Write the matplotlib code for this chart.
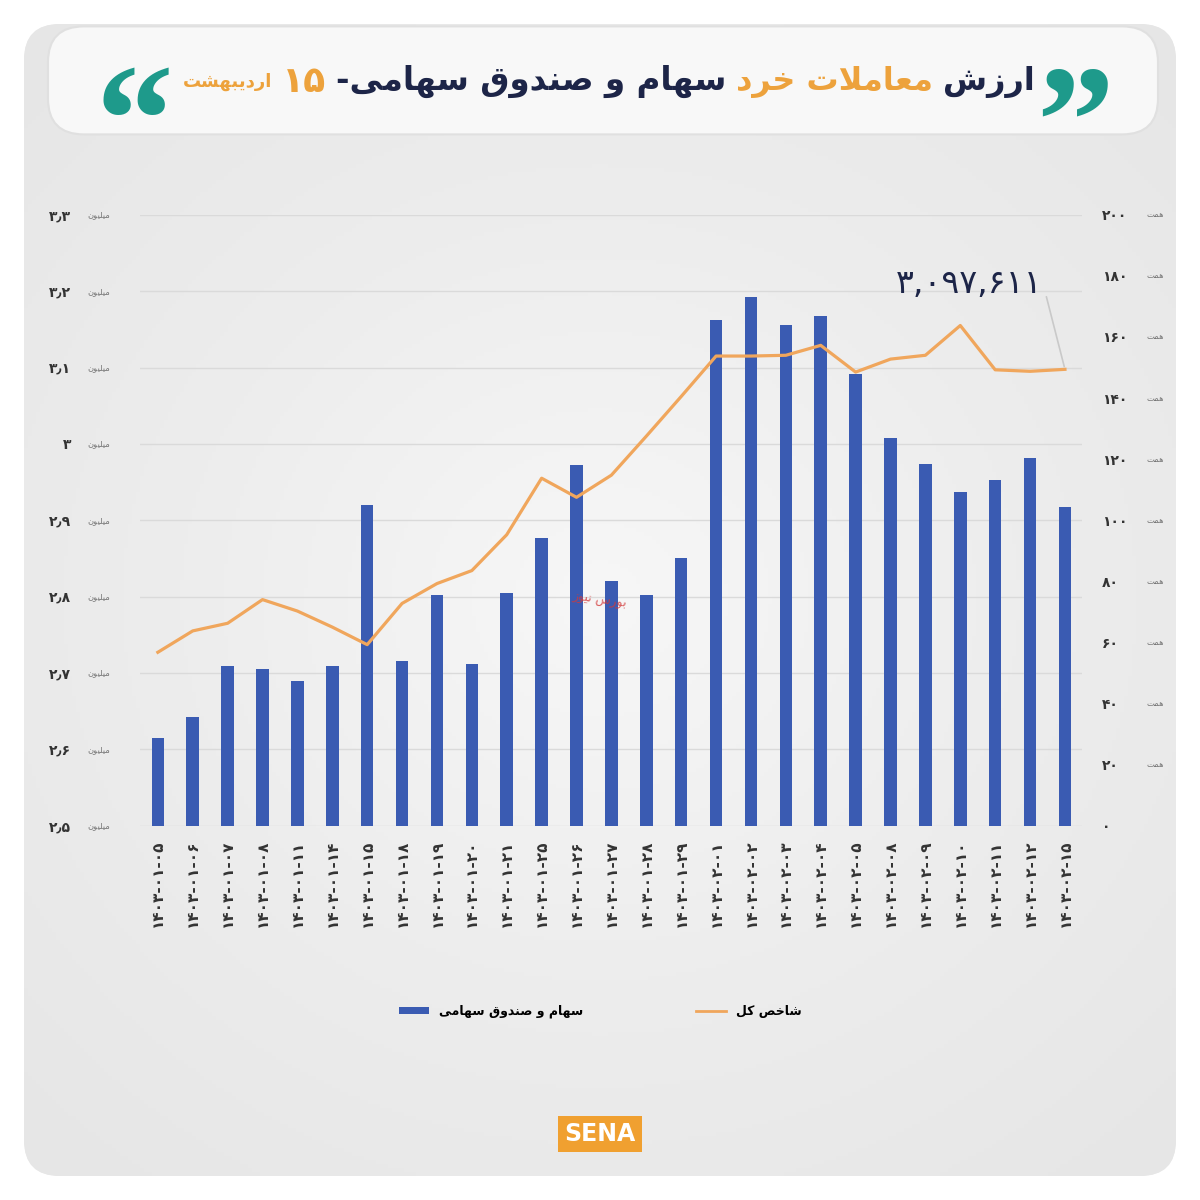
import re
import matplotlib
matplotlib.use('Agg')
import matplotlib.pyplot as plt
from matplotlib.patches import FancyBboxPatch, Rectangle
from matplotlib.lines import Line2D
from matplotlib.colors import LinearSegmentedColormap
import numpy as np

plt.rcParams['font.family'] = ['DejaVu Sans']

# ---- data ----
dates = ['1403-01-05', '1403-01-06', '1403-01-07', '1403-01-08', '1403-01-11',
         '1403-01-14', '1403-01-15', '1403-01-18', '1403-01-19', '1403-01-20',
         '1403-01-21', '1403-01-25', '1403-01-26', '1403-01-27', '1403-01-28',
         '1403-01-29', '1403-02-01', '1403-02-02', '1403-02-03', '1403-02-04',
         '1403-02-05', '1403-02-08', '1403-02-09', '1403-02-10', '1403-02-11',
         '1403-02-12', '1403-02-15']
trade_value = [28.8, 35.4, 52.4, 51.4, 47.5, 52.4, 105.0, 54.0, 75.6, 53.0,
               76.3, 94.3, 118.0, 80.2, 75.6, 87.7, 165.6, 173.2, 164.0, 167.0,
               148.0, 127.0, 118.5, 109.3, 113.0, 120.5, 104.4]
index_value = [2.727, 2.755, 2.765, 2.796, 2.781, 2.760, 2.737, 2.791, 2.817, 2.834,
               2.881, 2.955, 2.930, 2.959, 3.010, 3.062, 3.115, 3.115, 3.116, 3.129,
               3.094, 3.111, 3.116, 3.155, 3.097, 3.095, 3.0976]
left_ticks = [2.5, 2.6, 2.7, 2.8, 2.9, 3.0, 3.1, 3.2, 3.3]
left_labels = ['2٫5', '2٫6', '2٫7', '2٫8', '2٫9', '3', '3٫1', '3٫2', '3٫3']
right_ticks = [0, 20, 40, 60, 80, 100, 120, 140, 160, 180, 200]
last_label = '3,097,611'

BLUE = '#3a5bb2'
ORANGE = '#f0a65c'
NAVY = '#1d2548'
TITLE_OR = '#eda23c'
TEAL = '#1e9a8b'

# ---- persian helpers (matplotlib has no arabic shaping) ----
FA_DIGITS = str.maketrans('0123456789', '۰۱۲۳۴۵۶۷۸۹')


def fa(s):
    return str(s).translate(FA_DIGITS)


FORMS = {
    'ا': ('\ufe8d', '\ufe8e', None, None),
    'ب': ('\ufe8f', '\ufe90', '\ufe91', '\ufe92'),
    'ت': ('\ufe95', '\ufe96', '\ufe97', '\ufe98'),
    'خ': ('\ufea5', '\ufea6', '\ufea7', '\ufea8'),
    'د': ('\ufea9', '\ufeaa', None, None),
    'ر': ('\ufead', '\ufeae', None, None),
    'ز': ('\ufeaf', '\ufeb0', None, None),
    'س': ('\ufeb1', '\ufeb2', '\ufeb3', '\ufeb4'),
    'ش': ('\ufeb5', '\ufeb6', '\ufeb7', '\ufeb8'),
    'ص': ('\ufeb9', '\ufeba', '\ufebb', '\ufebc'),
    'ع': ('\ufec9', '\ufeca', '\ufecb', '\ufecc'),
    'ق': ('\ufed5', '\ufed6', '\ufed7', '\ufed8'),
    'ل': ('\ufedd', '\ufede', '\ufedf', '\ufee0'),
    'م': ('\ufee1', '\ufee2', '\ufee3', '\ufee4'),
    'ن': ('\ufee5', '\ufee6', '\ufee7', '\ufee8'),
    'ه': ('\ufee9', '\ufeea', '\ufeeb', '\ufeec'),
    'و': ('\ufeed', '\ufeee', None, None),
    'ی': ('\ufbfc', '\ufbfd', '\ufbfe', '\ufbff'),
    'ک': ('\ufb8e', '\ufb8f', '\ufb90', '\ufb91'),
}


def shape(text):
    chars = list(text)
    out = []
    i = 0
    while i < len(chars):
        c = chars[i]
        prev = chars[i - 1] if i > 0 else ''
        joins_prev = prev in FORMS and FORMS[prev][2] is not None
        if c == 'ل' and i + 1 < len(chars) and chars[i + 1] == 'ا':
            out.append('\ufefc' if joins_prev else '\ufefb')
            i += 2
            continue
        if c not in FORMS:
            out.append(c)
            i += 1
            continue
        nxt = chars[i + 1] if i + 1 < len(chars) else ''
        iso, fin, ini, med = FORMS[c]
        joins_next = ini is not None and nxt in FORMS
        if joins_prev and joins_next:
            out.append(med)
        elif joins_prev:
            out.append(fin)
        elif joins_next:
            out.append(ini)
        else:
            out.append(iso)
        i += 1
    s = ''.join(out)[::-1]
    return re.sub(r'[۰-۹0-9٫,]+', lambda m: m.group(0)[::-1], s)


# ---- figure + background ----
fig = plt.figure(figsize=(12, 12), dpi=100, facecolor='white')
bg = fig.add_axes([0, 0, 1, 1], zorder=-1)
bg.set_xlim(0, 1)
bg.set_ylim(0, 1)
bg.axis('off')
panel = FancyBboxPatch((0.02, 0.02), 0.96, 0.96, boxstyle='round,pad=0,rounding_size=0.03',
                       fc='#ececec', ec='none', transform=bg.transAxes)
bg.add_patch(panel)
gx, gy = np.meshgrid(np.linspace(-1, 1, 300), np.linspace(-1, 1, 300))
grad = np.sqrt(gx ** 2 + (gy * 1.1) ** 2)
cmap = LinearSegmentedColormap.from_list('bgc', ['#f7f7f7', '#ededed', '#e6e6e6'])
im = bg.imshow(grad, extent=[0, 1, 0, 1], cmap=cmap, vmin=0, vmax=1.4, origin='lower',
               aspect='auto', zorder=1)
im.set_clip_path(panel)
bg.add_patch(FancyBboxPatch((0.04, 0.888), 0.925, 0.09, boxstyle='round,pad=0,rounding_size=0.03',
                            fc='#f8f8f8', ec='#e0e0e0', lw=1.5, zorder=2,
                            transform=bg.transAxes))

ax = fig.add_axes([0.117, 0.312, 0.785, 0.509])
ax.set_facecolor('none')
x = np.arange(len(dates))

# left scale with grid
ax.set_ylim(2.5, 3.3)
ax.set_yticks(left_ticks)
ax.set_yticklabels([fa(v) for v in left_labels], fontsize=10, fontweight='bold', color='#333333')
ax.grid(axis='y', color='#dadada', lw=1)
ax.set_axisbelow(True)
ax.tick_params(length=0, pad=50)
for s in ax.spines.values():
    s.set_visible(False)
for v in left_ticks:
    ax.annotate(shape('میلیون'), xy=(0, v), xycoords=('axes fraction', 'data'),
                xytext=(-22, 0), textcoords='offset points', ha='right', va='center',
                fontsize=6, color='#777777')

# bars on the right scale
axb = ax.twinx()
axb.bar(x, trade_value, width=0.36, color=BLUE, zorder=2)
axb.set_ylim(0, 200)
axb.set_yticks(right_ticks)
axb.set_yticklabels([fa(v) for v in right_ticks], fontsize=10, fontweight='bold', color='#333333')
axb.tick_params(length=0, pad=14)
for s in axb.spines.values():
    s.set_visible(False)
for v in right_ticks[1:]:
    axb.annotate(shape('همت'), xy=(1, v), xycoords=('axes fraction', 'data'),
                 xytext=(46, 0), textcoords='offset points', ha='left', va='center',
                 fontsize=6, color='#777777')

# index line on left scale, above bars
axl = ax.twinx()
axl.set_ylim(ax.get_ylim())
axl.plot(x, index_value, color=ORANGE, lw=2.3, zorder=3)
axl.set_yticks([])
for s in axl.spines.values():
    s.set_visible(False)

ax.set_xlim(-0.5, len(dates) - 0.5)
ax.set_xticks(x)
ax.set_xticklabels([fa(d) for d in dates], rotation=90, fontsize=11,
                   fontweight='bold', color='#333333', va='top', ha='center')
ax.tick_params(axis='x', pad=10)

axl.annotate(fa(last_label), xy=(x[-1], index_value[-1]), xycoords='data',
             xytext=(0.808, 0.764), textcoords='figure fraction', ha='center', va='center',
             fontsize=24, color=NAVY,
             arrowprops=dict(arrowstyle='-', color='#c9c9c9', lw=1.2,
                             relpos=(1.0, 0.5), shrinkA=2, shrinkB=2))

# watermark
fig.text(0.5, 0.5, shape('بورس نیوز'), color='#d23a3a', fontsize=9, alpha=0.8,
         ha='center', va='center', rotation=-8)

# ---- title ----
fig.canvas.draw()
r = fig.canvas.get_renderer()
segments = [('ارزش', NAVY, 23), ('معاملات خرد', TITLE_OR, 23),
            ('سهام و صندوق سهامی-', NAVY, 23.5), (fa('15'), TITLE_OR, 26),
            ('اردیبهشت', TITLE_OR, 13)]
xr = 0.862
for txt, col, size in segments:
    t = fig.text(xr, 0.932, shape(txt), ha='right', va='center', fontsize=size,
                 fontweight='bold', color=col)
    bb = t.get_window_extent(renderer=r)
    xr = bb.x0 / fig.bbox.width - 0.008

fig.text(0.896, 0.888, '\u201d', fontsize=112, fontweight='bold', color=TEAL,
         ha='center', va='center', family=['Liberation Serif', 'DejaVu Sans'])
fig.text(0.112, 0.888, '\u201c', fontsize=112, fontweight='bold', color=TEAL,
         ha='center', va='center', family=['Liberation Serif', 'DejaVu Sans'])

# ---- legend ----
handles = [Rectangle((0, 0), 1, 1, fc=BLUE), Line2D([], [], color=ORANGE, lw=2)]
labels = [shape('سهام و صندوق سهامی'), shape('شاخص کل')]
fig.legend(handles, labels, loc='center', bbox_to_anchor=(0.5, 0.157), ncol=2,
           frameon=False, columnspacing=9, handlelength=2.4, handleheight=0.5,
           prop={'size': 9, 'weight': 'bold'})

# ---- logo ----
fig.text(0.5, 0.055, 'SENA', fontsize=17, fontweight='bold', color='white',
         ha='center', va='center',
         bbox=dict(boxstyle='square,pad=0.25', fc='#f0a030', ec='none'))

fig.savefig('out.png', dpi=100, facecolor='white')
